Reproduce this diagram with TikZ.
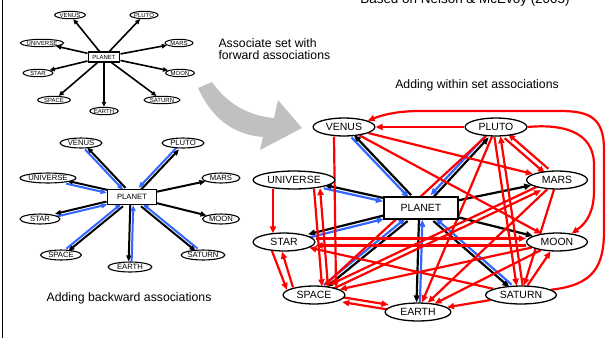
\documentclass[tikz,border=0pt]{standalone}
\usepackage{fontspec}
\setmainfont{Liberation Sans}
\usetikzlibrary{shapes.geometric,arrows.meta,backgrounds}
\definecolor{linkblue}{RGB}{51,102,255}
\definecolor{bigarrow}{RGB}{192,192,192}

\begin{document}
\begin{tikzpicture}[x=1bp,y=-1bp,
    word/.style={ellipse,draw,fill=white,inner sep=0pt},
    word1/.style={word,line width=1bp,minimum width=30,minimum height=7.5,font=\fontsize{6}{7}\selectfont},
    word2/.style={word,line width=1.1bp,minimum width=41,minimum height=10,font=\fontsize{7.7}{9}\selectfont},
    word3/.style={word,line width=1.3bp,minimum width=62,minimum height=18,font=\fontsize{10.5}{12}\selectfont},
    hub/.style={rectangle,draw,fill=white,inner sep=0pt},
    fw1/.style={black,line width=1.6bp,-{Triangle[length=5bp,width=4.5bp]}},
    fw2/.style={black,line width=2bp,-{Triangle[length=6bp,width=5bp]}},
    bw2/.style={linkblue,line width=2bp,-{Triangle[length=6bp,width=5bp]}},
    fw3/.style={black,line width=2.2bp,-{Triangle[length=7bp,width=6bp]}},
    bw3/.style={linkblue,line width=2.2bp,-{Triangle[length=7bp,width=6bp]}},
    wi3/.style={red,line width=2.2bp,-{Triangle[length=7bp,width=6bp]}},
    note/.style={font=\fontsize{12.3}{12.5}\selectfont}]
  \useasboundingbox (0,0) rectangle (608,338);
  \draw[line width=1.5bp] (2.5,0) -- (2.5,338);

  % forward associations
  \node[hub,line width=1.1bp,minimum width=32,minimum height=10,font=\fontsize{6}{7}\selectfont] (pla1) at (104,57) {PLANET};
  \foreach \n/\t/\px/\py/\w in {ven/VENUS/70/15/31, plu/PLUTO/144/15/26, uni/UNIVERSE/42/43/42,
      mar/MARS/179/43/28, sta/STAR/38/73/30, moo/MOON/180/73/29, spa/SPACE/54/100/33,
      sat/SATURN/162/100/36, ear/EARTH/104/111/28}
    \node[word1,minimum width=\w] (\n1) at (\px,\py) {\t};

  % backward associations
  \node[hub,line width=1.3bp,minimum width=49,minimum height=15,font=\fontsize{7.7}{9}\selectfont] (pla2) at (132,197) {PLANET};
  \foreach \n/\t/\px/\py/\w in {ven/VENUS/81/143/42, plu/PLUTO/183/143/42, uni/UNIVERSE/48/178/56,
      mar/MARS/221/178/38, sta/STAR/40/219/40, moo/MOON/221/219/37, spa/SPACE/61/255/41,
      sat/SATURN/203/255/41, ear/EARTH/130/267/44}
    \node[word2,minimum width=\w] (\n2) at (\px,\py) {\t};

  % within set associations
  \node[hub,line width=1.5bp,minimum width=74,minimum height=22,font=\fontsize{10.5}{12}\selectfont] (pla3) at (421,208) {PLANET};
  \foreach \n/\t/\px/\py/\w in {ven/VENUS/344/127/62, plu/PLUTO/496/127/62, uni/UNIVERSE/294/180/82,
      mar/MARS/557/180/61, sta/STAR/284/242/62, moo/MOON/557/242/61, spa/SPACE/314/295/62,
      sat/SATURN/521/295/71, ear/EARTH/418/312/66}
    \node[word3,minimum width=\w] (\n3) at (\px,\py) {\t};

  \begin{scope}[on background layer]
    \foreach \n in {ven,plu,uni,mar,sta,moo,spa,sat,ear}
      \draw[fw1] (pla1) -- (\n1);

    \foreach \n in {mar,moo} {
      \draw[fw2] (pla2) -- (\n2);
      \draw[fw3] (pla3) -- (\n3);
    }
    \foreach \n/\px/\py/\s in {ven/81/143/1, plu/183/143/1, uni/48/178/1, sta/40/219/1,
        spa/61/255/-1, ear/130/267/1, sat/203/255/1} {
      \pgfmathsetmacro\a{atan2(\py-197,\px-132)}
      \draw[fw2,transform canvas={shift={({\a+90*\s}:1.5)}}] (pla2) -- (\n2);
      \draw[bw2,transform canvas={shift={({\a-90*\s}:1.5)}}] (\n2) -- (pla2);
    }
    \foreach \n/\px/\py/\s in {ven/344/127/1, plu/496/127/1, uni/294/180/1, sta/284/242/1,
        spa/314/295/-1, ear/418/312/1, sat/521/295/1} {
      \pgfmathsetmacro\a{atan2(\py-208,\px-421)}
      \draw[fw3,transform canvas={shift={({\a+90*\s}:1.7)}}] (pla3) -- (\n3);
      \draw[bw3,transform canvas={shift={({\a-90*\s}:1.7)}}] (\n3) -- (pla3);
    }

    % red links
    \draw[wi3] (sat3.10) .. controls (595,285) and (604,265) .. (604,230) -- (604,150)
      .. controls (604,118) and (590,111) .. (560,111) -- (420,111)
      .. controls (400,111) and (385,114) .. (ven3.15);
    \draw[wi3] (plu3.east) .. controls (560,124) and (594,130) .. (594,165) -- (594,190)
      .. controls (594,210) and (588,222) .. (moo3.30);
    \draw[wi3] (plu3) -- (ven3);
    \draw[wi3] (ven3) -- (mar3);
    \draw[wi3] (ven3) -- (moo3);
    \draw[wi3,transform canvas={shift={(-1.8,2.1)}}] (plu3) -- (mar3);
    \draw[wi3,transform canvas={shift={(1.8,-2.1)}}] (mar3) -- (plu3);
    \draw[wi3] ([shift={(-10,0)}]ven3.south) -- ([shift={(22,2)}]spa3.north);
    \draw[wi3] ([shift={(-21,-1)}]uni3.south) -- ([shift={(-11,1)}]sta3.north);
    \draw[wi3] ([shift={(20,-1)}]uni3.south) -- ([shift={(8,1)}]spa3.north);
    \draw[wi3] ([shift={(14,1)}]spa3.north) -- ([shift={(26,-1.5)}]uni3.south);
    \draw[wi3] ([shift={(-12,-0.5)}]sta3.south) -- ([shift={(-27,4.5)}]spa3.north);
    \draw[wi3] ([shift={(-21,2)}]spa3.north) -- ([shift={(-2,0)}]sta3.south);
    \draw[wi3,transform canvas={shift={(0,-3.5)}}] (sta3) -- (moo3);
    \draw[wi3,transform canvas={shift={(0,3.5)}}] (moo3) -- (sta3);
    \draw[wi3] (sat3) -- (sta3);
    \draw[wi3] (plu3) -- (ear3);
    \draw[wi3,transform canvas={shift={(-3,0.4)}}] (plu3) -- (sat3);
    \draw[wi3,transform canvas={shift={(3,-0.4)}}] (sat3) -- (plu3);
    \draw[wi3,transform canvas={shift={(-0.4,-2.5)}}] (spa3) -- (ear3);
    \draw[wi3,transform canvas={shift={(0.4,2.5)}}] (ear3) -- (spa3);
    \draw[wi3] (sat3) -- (ear3);
    \draw[wi3] (sat3) -- (moo3);
    \draw[wi3] (mar3) -- (sat3);
    \draw[wi3,transform canvas={shift={(-1.2,-2.2)}}] (mar3) -- (spa3);
    \draw[wi3,transform canvas={shift={(1.2,2.2)}}] (spa3) -- (mar3);
    \draw[wi3] (moo3) -- (spa3);
    \draw[wi3] (mar3) -- (ear3);
    \draw[wi3] (moo3) -- (ear3);
    \draw[wi3] (plu3) -- (spa3);
  \end{scope}

  % big grey arrow
  \fill[bigarrow] (198,88) .. controls (215,125) and (240,135) .. (263,137) -- (260,150)
    -- (302,128) -- (278,100) -- (274,118) .. controls (250,116) and (228,105) .. (212,82) -- cycle;

  \node[note,anchor=west,align=left] (fwdnote) at (215,49) {Associate set with\\forward associations};
  \node[note] (winnote) at (477,85) {Adding within set associations};
  \node[note] (bwdnote) at (129,298) {Adding backward associations};
  \begin{scope}
    \clip (0,0) rectangle (608,338);
    \node[anchor=base,font=\fontsize{13.5}{15}\selectfont] (credit) at (465,3) {Based on Nelson \& McEvoy (2005)};
  \end{scope}
\end{tikzpicture}
\end{document}
